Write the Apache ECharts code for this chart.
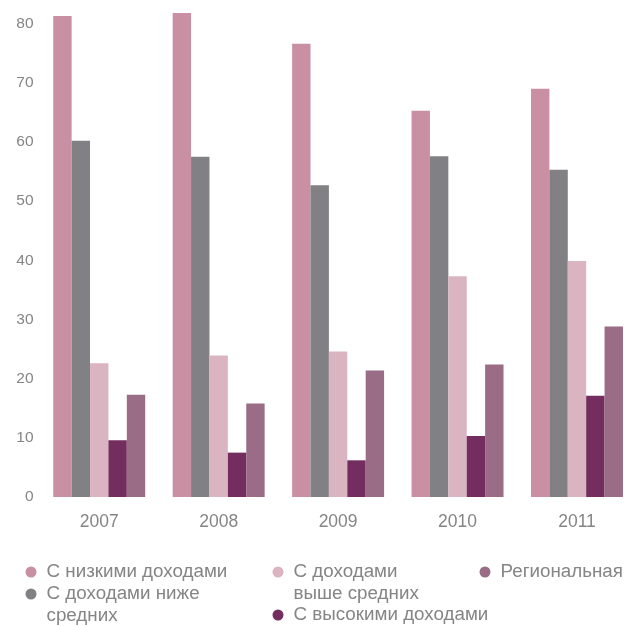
<!DOCTYPE html>
<html>
<head>
<meta charset="utf-8">
<script src="https://cdn.jsdelivr.net/npm/echarts@6/dist/echarts.min.js"></script>
<style>html,body{margin:0;padding:0;background:#fff}#c{width:624px;height:626px}</style>
</head>
<body>
<div id="c"></div>
<script>
var years = ['2007', '2008', '2009', '2010', '2011'];
var seriesNames = ['С низкими доходами', 'С доходами ниже средних', 'С доходами выше средних', 'С высокими доходами', 'Региональная'];
var lowIncome = [81.3, 81.8, 76.6, 65.3, 69.0];
var lowerMiddle = [60.2, 57.5, 52.7, 57.6, 55.3];
var upperMiddle = [22.6, 23.9, 24.6, 37.3, 39.9];
var highIncome = [9.6, 7.5, 6.2, 10.3, 17.1];
var regional = [17.3, 15.8, 21.4, 22.4, 28.8];
var yTicks = [0, 10, 20, 30, 40, 50, 60, 70, 80];

var colors = ['#C98FA3', '#808085', '#DBB4C2', '#732E5F', '#9A6C86'];
var values = [lowIncome, lowerMiddle, upperMiddle, highIncome, regional];
var font = 'Liberation Sans, Arial, Helvetica, sans-serif';
var textColor = '#858585';

var wrapLabels = {
  'С доходами ниже средних': '\nС доходами ниже\nсредних',
  'С доходами выше средних': '\nС доходами\nвыше средних'
};

var LH = 22;
function legendFor(name, iconCenterX, iconCenterY, lines) {
  var boxH = (2 * lines - 1) * LH;
  return {
    data: [name],
    orient: 'vertical',
    left: iconCenterX - 5.5,
    top: iconCenterY - boxH / 2,
    padding: 0,
    icon: 'circle',
    itemWidth: 11,
    itemHeight: 11,
    formatter: function (n) { return wrapLabels[n] || n; },
    textStyle: {
      fontFamily: font,
      fontSize: 18.8,
      color: textColor,
      lineHeight: LH,
      padding: [0, 0, 0, 5]
    }
  };
}

var chart = echarts.init(document.getElementById('c'));
chart.setOption({
  animation: false,
  color: colors,
  grid: { left: 39.5, right: -12.7, top: 0, bottom: 129, containLabel: false, outerBoundsMode: 'none' },
  xAxis: {
    type: 'category',
    data: years,
    axisLine: { show: false },
    axisTick: { show: false },
    axisLabel: { fontFamily: font, fontSize: 17.5, color: textColor, margin: 16 }
  },
  yAxis: {
    type: 'value',
    min: 0,
    max: 84,
    interval: 10,
    splitLine: { show: false },
    axisLine: { show: false },
    axisTick: { show: false },
    axisLabel: {
      fontFamily: font, fontSize: 15.5, color: textColor, margin: 6,
      showMaxLabel: false,
      formatter: function (v) { return yTicks.indexOf(v) >= 0 ? String(v) : ''; }
    }
  },
  legend: [
    legendFor(seriesNames[0], 31, 572, 1),
    legendFor(seriesNames[1], 31, 594, 2),
    legendFor(seriesNames[2], 278, 572, 2),
    legendFor(seriesNames[3], 278, 615, 1),
    legendFor(seriesNames[4], 485, 572, 1)
  ],
  series: seriesNames.map(function (n, i) {
    return {
      name: n,
      type: 'bar',
      data: values[i],
      barGap: '0%',
      barCategoryGap: '23%',
      itemStyle: { color: colors[i] }
    };
  })
});
</script>
</body>
</html>
